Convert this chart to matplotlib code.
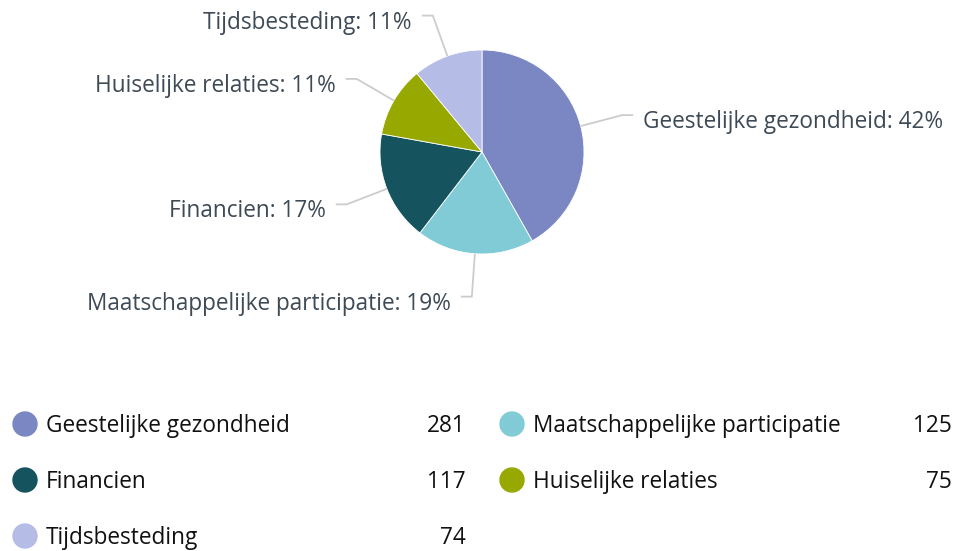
import numpy as np
import matplotlib.pyplot as plt
from matplotlib.patches import Circle

categories = ['Geestelijke gezondheid', 'Maatschappelijke participatie', 'Financien',
              'Huiselijke relaties', 'Tijdsbesteding']
values = [281, 125, 117, 75, 74]
colors = ['#7b87c3', '#80cbd6', '#15535e', '#97a800', '#b5bde6']

W, H = 955, 551
plt.rcParams['font.family'] = ['Open Sans', 'DejaVu Sans']

fig = plt.figure(figsize=(W / 100, H / 100), dpi=100)
ax = fig.add_axes([0, 0, 1, 1])
ax.axis('off')

cx, cy, r = 482, H - 152, 102
ax.pie(values, colors=colors, center=(cx, cy), radius=r, startangle=90,
       counterclock=False, wedgeprops=dict(linewidth=0.6, edgecolor='white'))
ax.set_xlim(0, W)
ax.set_ylim(0, H)
ax.set_aspect('auto')

# labels with connectors
total = sum(values)
cum = 0
for name, v in zip(categories, values):
    frac = v / total
    theta = np.deg2rad(90 - 360 * (cum + frac / 2))
    cum += frac
    c, s = np.cos(theta), np.sin(theta)
    x0, y0 = cx + r * c, cy + r * s
    x1, y1 = cx + 145 * c, cy + 145 * s
    side = 1 if c >= 0 else -1
    x2 = x1 + side * 11
    ax.plot([x0, x1, x2], [y0, y1, y1], color='#cccccc', lw=1.3,
            solid_capstyle='butt', zorder=1)
    ax.text(x2 + side * 10, y1 - 7, f'{name}: {round(frac * 100)}%',
            ha='left' if side > 0 else 'right', va='center',
            fontsize=16.3, color='#3e4a56')

# legend
col_x = [25, 512]
val_x = [466, 952]
row_y = [424, 480, 536]
for i, (name, v, col) in enumerate(zip(categories, values, colors)):
    ci, ri = i % 2, i // 2
    y = H - row_y[ri]
    ax.add_patch(Circle((col_x[ci], y), 12, color=col))
    ax.text(col_x[ci] + 21, y - 2, name, ha='left', va='center', fontsize=16.3, color='#111111')
    ax.text(val_x[ci], y - 2, str(v), ha='right', va='center', fontsize=16.3, color='#111111')

fig.savefig('out.png', dpi=100)
